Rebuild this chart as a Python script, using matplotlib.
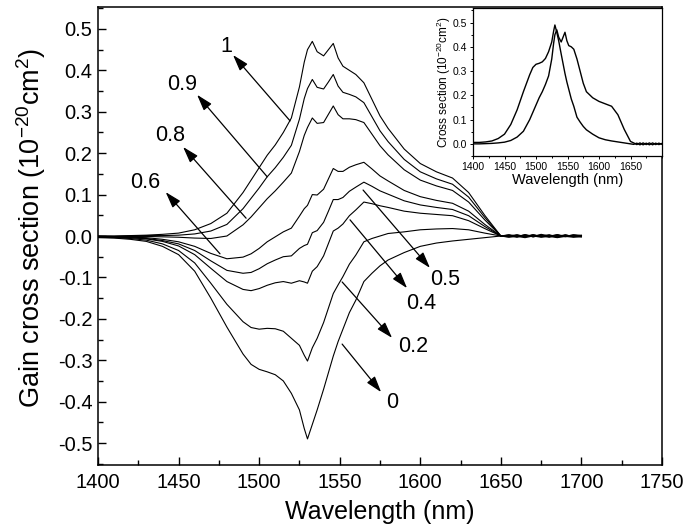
import matplotlib
matplotlib.use("Agg")
import matplotlib.pyplot as plt
from matplotlib.ticker import MultipleLocator, FuncFormatter

plt.rcParams['font.family'] = ['Liberation Sans', 'DejaVu Sans']
plt.rcParams['mathtext.fontset'] = 'custom'
plt.rcParams['mathtext.rm'] = 'Liberation Sans'
plt.rcParams['mathtext.default'] = 'regular'
plt.rcParams['axes.unicode_minus'] = False

# wavelength grid (nm)
wl = [1400, 1410, 1420, 1430, 1440, 1450, 1460, 1470, 1480, 1490, 1495, 1500,
      1505, 1510, 1515, 1520, 1525, 1528, 1530, 1533, 1536, 1540, 1543, 1546,
      1549, 1552, 1556, 1560, 1565, 1570, 1575, 1580, 1590, 1600, 1610, 1620,
      1630, 1640, 1650, 1655, 1660, 1665, 1670, 1675, 1680, 1685, 1690, 1695, 1700]

# gain cross section for each population fraction (10^-20 cm^2)
g_0 = [-0.004, -0.005, -0.008, -0.013, -0.025, -0.045, -0.085, -0.150, -0.220, -0.285, -0.310, -0.322,
       -0.328, -0.335, -0.350, -0.380, -0.420, -0.465, -0.490, -0.455, -0.420, -0.370, -0.330, -0.290,
       -0.255, -0.225, -0.185, -0.155, -0.110, -0.090, -0.072, -0.058, -0.040, -0.025, -0.017, -0.012,
       -0.008, -0.004, 0.000, -0.003, -0.001, -0.004, 0.000, -0.003, -0.001, -0.004, -0.001, -0.003, -0.002]
g_02 = [-0.003, -0.004, -0.006, -0.010, -0.019, -0.035, -0.065, -0.114, -0.165, -0.207, -0.221, -0.225,
        -0.223, -0.224, -0.230, -0.247, -0.264, -0.288, -0.302, -0.270, -0.247, -0.209, -0.174, -0.139,
        -0.118, -0.098, -0.068, -0.046, -0.014, -0.006, 0.000, 0.006, 0.010, 0.015, 0.017, 0.018,
        0.015, 0.007, 0.000, 0.001, -0.003, 0.002, -0.002, 0.001, -0.003, 0.002, -0.001, 0.001, -0.002]
g_04 = [-0.002, -0.003, -0.004, -0.007, -0.013, -0.024, -0.045, -0.078, -0.110, -0.129, -0.132, -0.127,
        -0.119, -0.113, -0.110, -0.114, -0.108, -0.111, -0.114, -0.085, -0.074, -0.048, -0.018, 0.012,
        0.019, 0.029, 0.049, 0.063, 0.082, 0.078, 0.073, 0.069, 0.060, 0.055, 0.052, 0.049,
        0.037, 0.018, 0.000, 0.002, -0.001, 0.003, -0.002, 0.002, 0.000, 0.003, -0.002, 0.002, 0.001]
g_05 = [-0.002, -0.003, -0.004, -0.006, -0.011, -0.019, -0.035, -0.060, -0.083, -0.090, -0.088, -0.079,
        -0.067, -0.058, -0.050, -0.048, -0.030, -0.023, -0.020, 0.008, 0.013, 0.033, 0.060, 0.088,
        0.088, 0.093, 0.108, 0.118, 0.130, 0.120, 0.109, 0.101, 0.085, 0.075, 0.069, 0.064,
        0.049, 0.023, 0.000, -0.001, 0.002, -0.002, 0.003, -0.001, 0.002, -0.003, 0.002, -0.001, 0.001]
g_06 = [-0.002, -0.002, -0.003, -0.004, -0.008, -0.014, -0.025, -0.042, -0.055, -0.051, -0.043, -0.030,
        -0.014, -0.002, 0.010, 0.019, 0.048, 0.066, 0.074, 0.100, 0.099, 0.113, 0.138, 0.163,
        0.156, 0.156, 0.166, 0.172, 0.178, 0.162, 0.145, 0.133, 0.110, 0.095, 0.086, 0.079,
        0.060, 0.028, 0.000, 0.003, 0.000, 0.002, -0.001, 0.004, 0.000, 0.002, -0.001, 0.003, 0.001]
g_08 = [-0.001, -0.001, -0.001, -0.001, -0.002, -0.003, -0.005, -0.006, 0.000, 0.027, 0.046, 0.068,
        0.090, 0.109, 0.130, 0.152, 0.204, 0.243, 0.262, 0.285, 0.272, 0.274, 0.294, 0.314,
        0.293, 0.283, 0.283, 0.281, 0.274, 0.246, 0.218, 0.196, 0.160, 0.135, 0.121, 0.110,
        0.082, 0.039, 0.000, 0.000, 0.003, -0.001, 0.002, 0.000, 0.003, -0.002, 0.002, 0.000, 0.002]
g_09 = [0.000, -0.001, 0.000, 0.001, 0.001, 0.002, 0.005, 0.012, 0.028, 0.066, 0.091, 0.116,
        0.143, 0.165, 0.190, 0.219, 0.282, 0.332, 0.356, 0.378, 0.359, 0.355, 0.372, 0.390,
        0.362, 0.347, 0.342, 0.336, 0.322, 0.288, 0.254, 0.228, 0.185, 0.155, 0.138, 0.125,
        0.094, 0.045, 0.000, 0.002, -0.002, 0.003, 0.000, 0.002, -0.002, 0.003, 0.000, 0.002, 0.000]
g_1 = [0.000, 0.000, 0.001, 0.002, 0.004, 0.007, 0.015, 0.030, 0.055, 0.105, 0.135, 0.165,
       0.195, 0.220, 0.250, 0.285, 0.360, 0.420, 0.450, 0.470, 0.445, 0.435, 0.450, 0.465,
       0.430, 0.410, 0.400, 0.390, 0.370, 0.330, 0.290, 0.260, 0.210, 0.175, 0.155, 0.140,
       0.105, 0.050, 0.000, -0.002, 0.002, -0.001, 0.003, -0.002, 0.001, -0.001, 0.003, -0.002, 0.001]

gain_curves = [g_0, g_02, g_04, g_05, g_06, g_08, g_09, g_1]
curve_labels = ["0", "0.2", "0.4", "0.5", "0.6", "0.8", "0.9", "1"]

# inset: absorption and emission cross sections
abs_inset = [0.006, 0.006, 0.008, 0.012, 0.022, 0.040, 0.080, 0.140, 0.215, 0.285, 0.315, 0.328,
             0.332, 0.338, 0.352, 0.380, 0.420, 0.465, 0.490, 0.460, 0.425, 0.370, 0.330, 0.290,
             0.255, 0.225, 0.185, 0.155, 0.110, 0.090, 0.072, 0.058, 0.040, 0.025, 0.017, 0.012,
             0.008, 0.004, 0.000, -0.002, 0.003, -0.004, 0.004, -0.003, 0.004, -0.004, 0.003, -0.003, 0.002]
emi_inset = [0.000, 0.000, 0.001, 0.002, 0.004, 0.007, 0.014, 0.028, 0.052, 0.100, 0.130, 0.160,
             0.190, 0.215, 0.245, 0.280, 0.350, 0.415, 0.450, 0.470, 0.440, 0.420, 0.440, 0.460,
             0.425, 0.405, 0.400, 0.390, 0.350, 0.300, 0.250, 0.215, 0.190, 0.175, 0.165, 0.155,
             0.120, 0.060, 0.010, 0.004, -0.003, 0.004, -0.004, 0.003, -0.004, 0.004, -0.003, 0.003, -0.002]

# label text position, arrow tail (on curve), arrow head (near label)
label_pos = {"1": (1479.5, 0.457), "0.9": (1452, 0.365), "0.8": (1444.7, 0.242),
             "0.6": (1429, 0.128), "0.5": (1615.4, -0.106), "0.4": (1600.5, -0.164),
             "0.2": (1595.5, -0.268), "0": (1582.5, -0.401)}
arrows = {"1": ((1519.2, 0.278), (1483.8, 0.437)),
          "0.9": ((1505, 0.143), (1461.5, 0.341)),
          "0.8": ((1491.9, 0.043), (1452.8, 0.215)),
          "0.6": ((1475.7, -0.043), (1442, 0.106)),
          "0.5": ((1564.5, 0.111), (1606, -0.077)),
          "0.4": ((1556.4, 0.039), (1591.8, -0.126)),
          "0.2": ((1551.5, -0.111), (1582.5, -0.246)),
          "0": ((1551.5, -0.261), (1575.7, -0.377))}

W, H = 688, 530
fig = plt.figure(figsize=(W / 100, H / 100), dpi=100)
ax = fig.add_axes([98 / W, 1 - 465 / H, 564 / W, 458 / H])

for vals in gain_curves:
    ax.plot(wl, vals, color='black', lw=0.8)

for lab in curve_labels:
    tail, head = arrows[lab]
    ax.annotate('', xy=head, xytext=tail,
                arrowprops=dict(arrowstyle='-|>,head_length=0.7,head_width=0.22',
                                color='black', lw=0.9, mutation_scale=14,
                                shrinkA=0, shrinkB=0))
    ax.text(label_pos[lab][0], label_pos[lab][1], lab, fontsize=15.5,
            ha='center', va='center')

ax.set_xlim(1400, 1750)
ax.set_ylim(-0.553, 0.553)
ax.set_xticks(list(range(1400, 1751, 50)))
ax.xaxis.set_minor_locator(MultipleLocator(25))
yt = [round(-0.5 + 0.1 * i, 1) for i in range(11)]
ax.set_yticks(yt)
ax.yaxis.set_major_formatter(FuncFormatter(lambda v, p: f"{v:.1f}" if abs(v) > 1e-9 else "0.0"))
ax.yaxis.set_minor_locator(MultipleLocator(0.05))
ax.tick_params(which='both', direction='in', top=False, right=False, width=1.0)
ax.tick_params(which='major', length=6, labelsize=14.5)
ax.tick_params(axis='x', which='major', pad=6)
ax.tick_params(axis='y', which='major', pad=4)
ax.tick_params(which='minor', length=3.5)
for s in ax.spines.values():
    s.set_linewidth(1.1)

fig.text(380 / W, 1 - 512 / H, "Wavelength (nm)", fontsize=18, ha='center', va='center')
fig.text(31 / W, 1 - 228 / H, "Gain cross section (10$^{-20}$cm$^{2}$)", fontsize=19.5,
         rotation=90, ha='center', va='center')

# inset
axi = fig.add_axes([473 / W, 1 - 156 / H, (662 - 473) / W, (156 - 8) / H])
axi.plot(wl, abs_inset, color='black', lw=1.0)
axi.plot(wl, emi_inset, color='black', lw=1.0)
axi.set_xlim(1400, 1700)
axi.set_ylim(-0.05, 0.56)
axi.set_xticks(list(range(1400, 1651, 50)))
axi.xaxis.set_minor_locator(MultipleLocator(25))
axi.set_yticks([0.0, 0.1, 0.2, 0.3, 0.4, 0.5])
axi.yaxis.set_major_formatter(FuncFormatter(lambda v, p: f"{v:.1f}"))
axi.yaxis.set_minor_locator(MultipleLocator(0.05))
axi.tick_params(which='both', direction='out', top=False, right=False, width=0.7)
axi.tick_params(which='major', length=2.5, labelsize=7.5, pad=1.5)
axi.tick_params(which='minor', length=1.5)
for s in axi.spines.values():
    s.set_linewidth(0.9)
fig.text(568 / W, 1 - 180 / H, "Wavelength (nm)", fontsize=10.5, ha='center', va='center')
fig.text(444 / W, 1 - 82 / H, "Cross section (10$^{-20}$cm$^{2}$)", fontsize=8.5,
         rotation=90, ha='center', va='center')

fig.savefig("out.png", dpi=100)
